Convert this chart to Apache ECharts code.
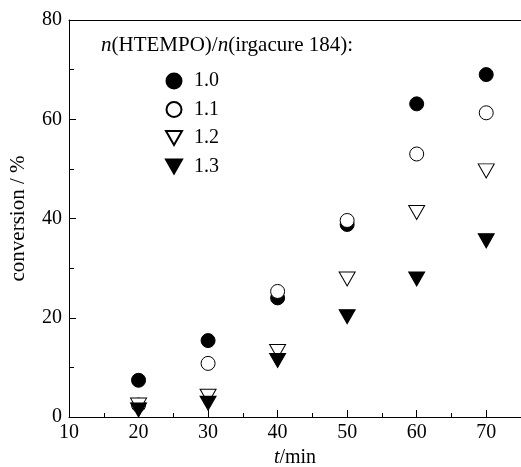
<!DOCTYPE html>
<html><head><meta charset="utf-8">
<script src="https://cdn.jsdelivr.net/npm/echarts@6/dist/echarts.min.js"></script>
<style>html,body{margin:0;padding:0;background:#fff}#c{width:521px;height:467px}</style>
</head><body><div id="c"></div>
<script>
const times = [20, 30, 40, 50, 60, 70];
const ratios = ['1.0', '1.1', '1.2', '1.3'];
const conv10 = [7.4, 15.4, 24.0, 38.8, 63.1, 69.0];
const conv11 = [2.4, 10.8, 25.3, 39.6, 53.0, 61.3];
const conv12 = [2.4, 4.2, 13.2, 27.8, 41.2, 49.6];
const conv13 = [1.4, 2.8, 11.4, 20.2, 27.8, 35.5];
const xTicks = [10, 20, 30, 40, 50, 60, 70];
const yTicks = [0, 20, 40, 60, 80];

const font = 'Liberation Serif, Times New Roman, serif';
const pts = a => times.map((t, i) => [t, a[i]]);
const chart = echarts.init(document.getElementById('c'));
const downTri = 'path://M0,0L16,0L8,14Z';
const styles = [
  {symbol: 'circle', icon: 'circle', size: 14, color: '#000'},
  {symbol: 'circle', icon: 'circle', size: 14, color: '#fff'},
  {symbol: downTri, icon: downTri, size: [16, 14], color: '#fff'},
  {symbol: downTri, icon: downTri, size: [16, 14], color: '#000'}
];
const data = [conv10, conv11, conv12, conv13];
chart.setOption({
  animation: false,
  textStyle: {fontFamily: font, color: '#000'},
  title: {
    text: '{i|n}(HTEMPO)/{i|n}(irgacure 184):',
    left: 101, top: 35, padding: 0,
    textStyle: {fontFamily: font, fontSize: 21, fontWeight: 'normal', color: '#000',
      rich: {i: {fontFamily: font, fontSize: 21, fontStyle: 'italic', color: '#000'}}}
  },
  legend: {
    orient: 'vertical', left: 160, top: 66, itemGap: 8.5,
    itemWidth: 16, itemHeight: 15,
    textStyle: {fontFamily: font, fontSize: 20, color: '#000', padding: [0, 0, 0, 7]},
    data: ratios.map((r, k) => ({name: r, icon: styles[k].icon}))
  },
  grid: {left: 69, right: 0, top: 20, bottom: 50, outerBoundsMode: 'none', containLabel: false},
  xAxis: [{
    type: 'value', min: 10, max: 75, interval: 10,
    axisLine: {show: true, lineStyle: {color: '#000', width: 1}},
    axisTick: {show: true, inside: true, length: 7, lineStyle: {color: '#000'}},
    minorTick: {show: true, splitNumber: 2, length: 4, lineStyle: {color: '#000'}},
    splitLine: {show: false},
    axisLabel: {fontFamily: font, fontSize: 20, color: '#000', margin: 6,
      formatter: v => xTicks.includes(v) ? String(v) : ''},
    name: '{i|t}/min', nameLocation: 'middle', nameGap: 30,
    nameTextStyle: {fontFamily: font, fontSize: 20, color: '#000',
      rich: {i: {fontFamily: font, fontSize: 20, fontStyle: 'italic', color: '#000'}}}
  }, {
    type: 'value', position: 'top', min: 10, max: 75,
    axisLine: {show: true, lineStyle: {color: '#000', width: 1}},
    axisTick: {show: false}, axisLabel: {show: false}, splitLine: {show: false}
  }],
  yAxis: {
    type: 'value', min: 0, max: 80, interval: 20,
    axisLine: {show: true, lineStyle: {color: '#000', width: 1}},
    axisTick: {show: true, inside: true, length: 7, lineStyle: {color: '#000'}},
    minorTick: {show: true, splitNumber: 2, length: 5, lineStyle: {color: '#000'}},
    splitLine: {show: false},
    axisLabel: {fontFamily: font, fontSize: 20, color: '#000', margin: 7,
      formatter: v => yTicks.includes(v) ? String(v) : ''},
    name: 'conversion / %', nameLocation: 'middle', nameGap: 40,
    nameTextStyle: {fontFamily: font, fontSize: 21, color: '#000'}
  },
  series: ratios.map((r, k) => ({
    name: r, type: 'scatter', data: pts(data[k]),
    symbol: styles[k].symbol, symbolSize: styles[k].size,
    itemStyle: {color: styles[k].color, borderColor: '#000', borderWidth: 1, opacity: 1}
  }))
});
</script></body></html>
